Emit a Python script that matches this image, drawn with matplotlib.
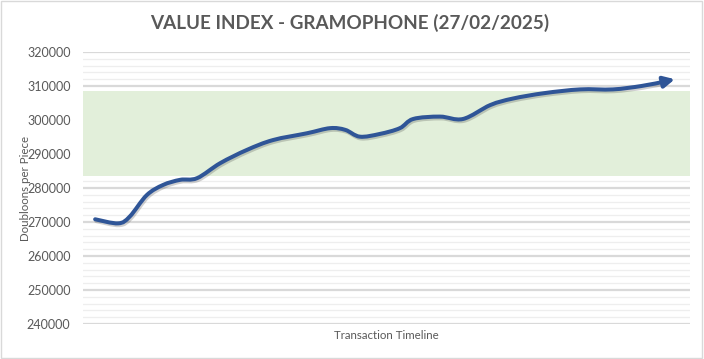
import matplotlib
matplotlib.use("Agg")
import matplotlib.pyplot as plt
import matplotlib.patheffects as pe
from matplotlib.patches import Rectangle, PathPatch
from matplotlib.path import Path
from matplotlib.ticker import MultipleLocator

# values
timeline = [2.0, 5.8, 7.7, 10.5, 13.2, 16.0, 18.8, 22.6, 27.0, 31.3, 36.9, 40.7, 43.2,
            45.6, 48.9, 52.2, 54.4, 58.8, 62.6, 67.1, 70.8, 76.0, 81.9, 87.3, 92.0, 95.8, 97.5]
price = [270800, 269600, 271600, 277900, 280900, 282400, 282900, 287300, 291200, 294100,
         296100, 297600, 297100, 295100, 295900, 297600, 300300, 301000, 300300, 304400,
         306300, 307900, 309000, 309000, 310000, 311300, 312000]
band_low = 283600
band_high = 308600
y_ticks = [240000, 250000, 260000, 270000, 280000, 290000, 300000, 310000, 320000]

title = "VALUE INDEX - GRAMOPHONE (27/02/2025)"
txt = "#595959"
blue = "#2f5597"
font = "Lato"


def smooth_path(xs, ys):
    # Excel-like smoothed line: catmull-rom segments as cubic beziers
    verts = [(xs[0], ys[0])]
    codes = [Path.MOVETO]
    n = len(xs)
    for i in range(n - 1):
        x0, y0 = (xs[i - 1], ys[i - 1]) if i > 0 else (xs[i], ys[i])
        x1, y1 = xs[i], ys[i]
        x2, y2 = xs[i + 1], ys[i + 1]
        x3, y3 = (xs[i + 2], ys[i + 2]) if i + 2 < n else (x2, y2)
        c1 = (x1 + (x2 - x0) / 6, y1 + (y2 - y0) / 6)
        c2 = (x2 - (x3 - x1) / 6, y2 - (y3 - y1) / 6)
        verts += [c1, c2, (x2, y2)]
        codes += [Path.CURVE4] * 3
    return Path(verts, codes)


fig = plt.figure(figsize=(7.04, 3.59), dpi=100)
ax = fig.add_axes([83 / 704, 1 - 324 / 359, 607 / 704, 272 / 359])

ax.axhspan(band_low, band_high, color="#e2efda", zorder=2, lw=0)

ax.set_ylim(min(y_ticks), max(y_ticks))
ax.set_xlim(0, 100)
ax.set_yticks(y_ticks)
ax.yaxis.set_minor_locator(MultipleLocator(2000))
ax.grid(axis="y", which="major", color="#d9d9d9", lw=1.6)
ax.grid(axis="y", which="minor", color="#eeeeee", lw=0.9)
ax.set_axisbelow(True)
ax.set_xticks([])
ax.tick_params(axis="y", which="both", length=0, pad=9, labelsize=9, labelcolor=txt)
for lab in ax.get_yticklabels():
    lab.set_fontfamily(font)
for s in ax.spines.values():
    s.set_visible(False)

shadow = [pe.SimpleLineShadow(offset=(0.8, -1.3), shadow_color="#444444", alpha=0.25),
          pe.Normal()]
curve = PathPatch(smooth_path(timeline[:-1], price[:-1]), fill=False, edgecolor=blue,
                  lw=2.9, capstyle="round", joinstyle="round", zorder=3,
                  path_effects=shadow)
ax.add_patch(curve)
ax.annotate("", xy=(timeline[-1], price[-1]), xytext=(timeline[-2], price[-2]),
            arrowprops=dict(arrowstyle="-|>,head_length=0.65,head_width=0.33",
                            color=blue, lw=2.9, shrinkA=0, shrinkB=0),
            zorder=3)

ax.set_ylabel("Doubloons per Piece", fontsize=8.3, color=txt, family=font)
ax.yaxis.set_label_coords(-52 / 607, 0.5)
ax.set_xlabel("Transaction Timeline", fontsize=8.3, color=txt, family=font)
ax.xaxis.set_label_coords(0.5, -6 / 272)

fig.text(0.497, 1 - 23 / 359, title, ha="center", va="center", fontsize=13.6,
         fontweight="bold", color=txt, family=font)

fig.patches.append(Rectangle((0.002, 0.003), 0.995, 0.994, transform=fig.transFigure,
                             fill=False, edgecolor="#d9d9d9", lw=1))

fig.savefig("out.png", dpi=100)
